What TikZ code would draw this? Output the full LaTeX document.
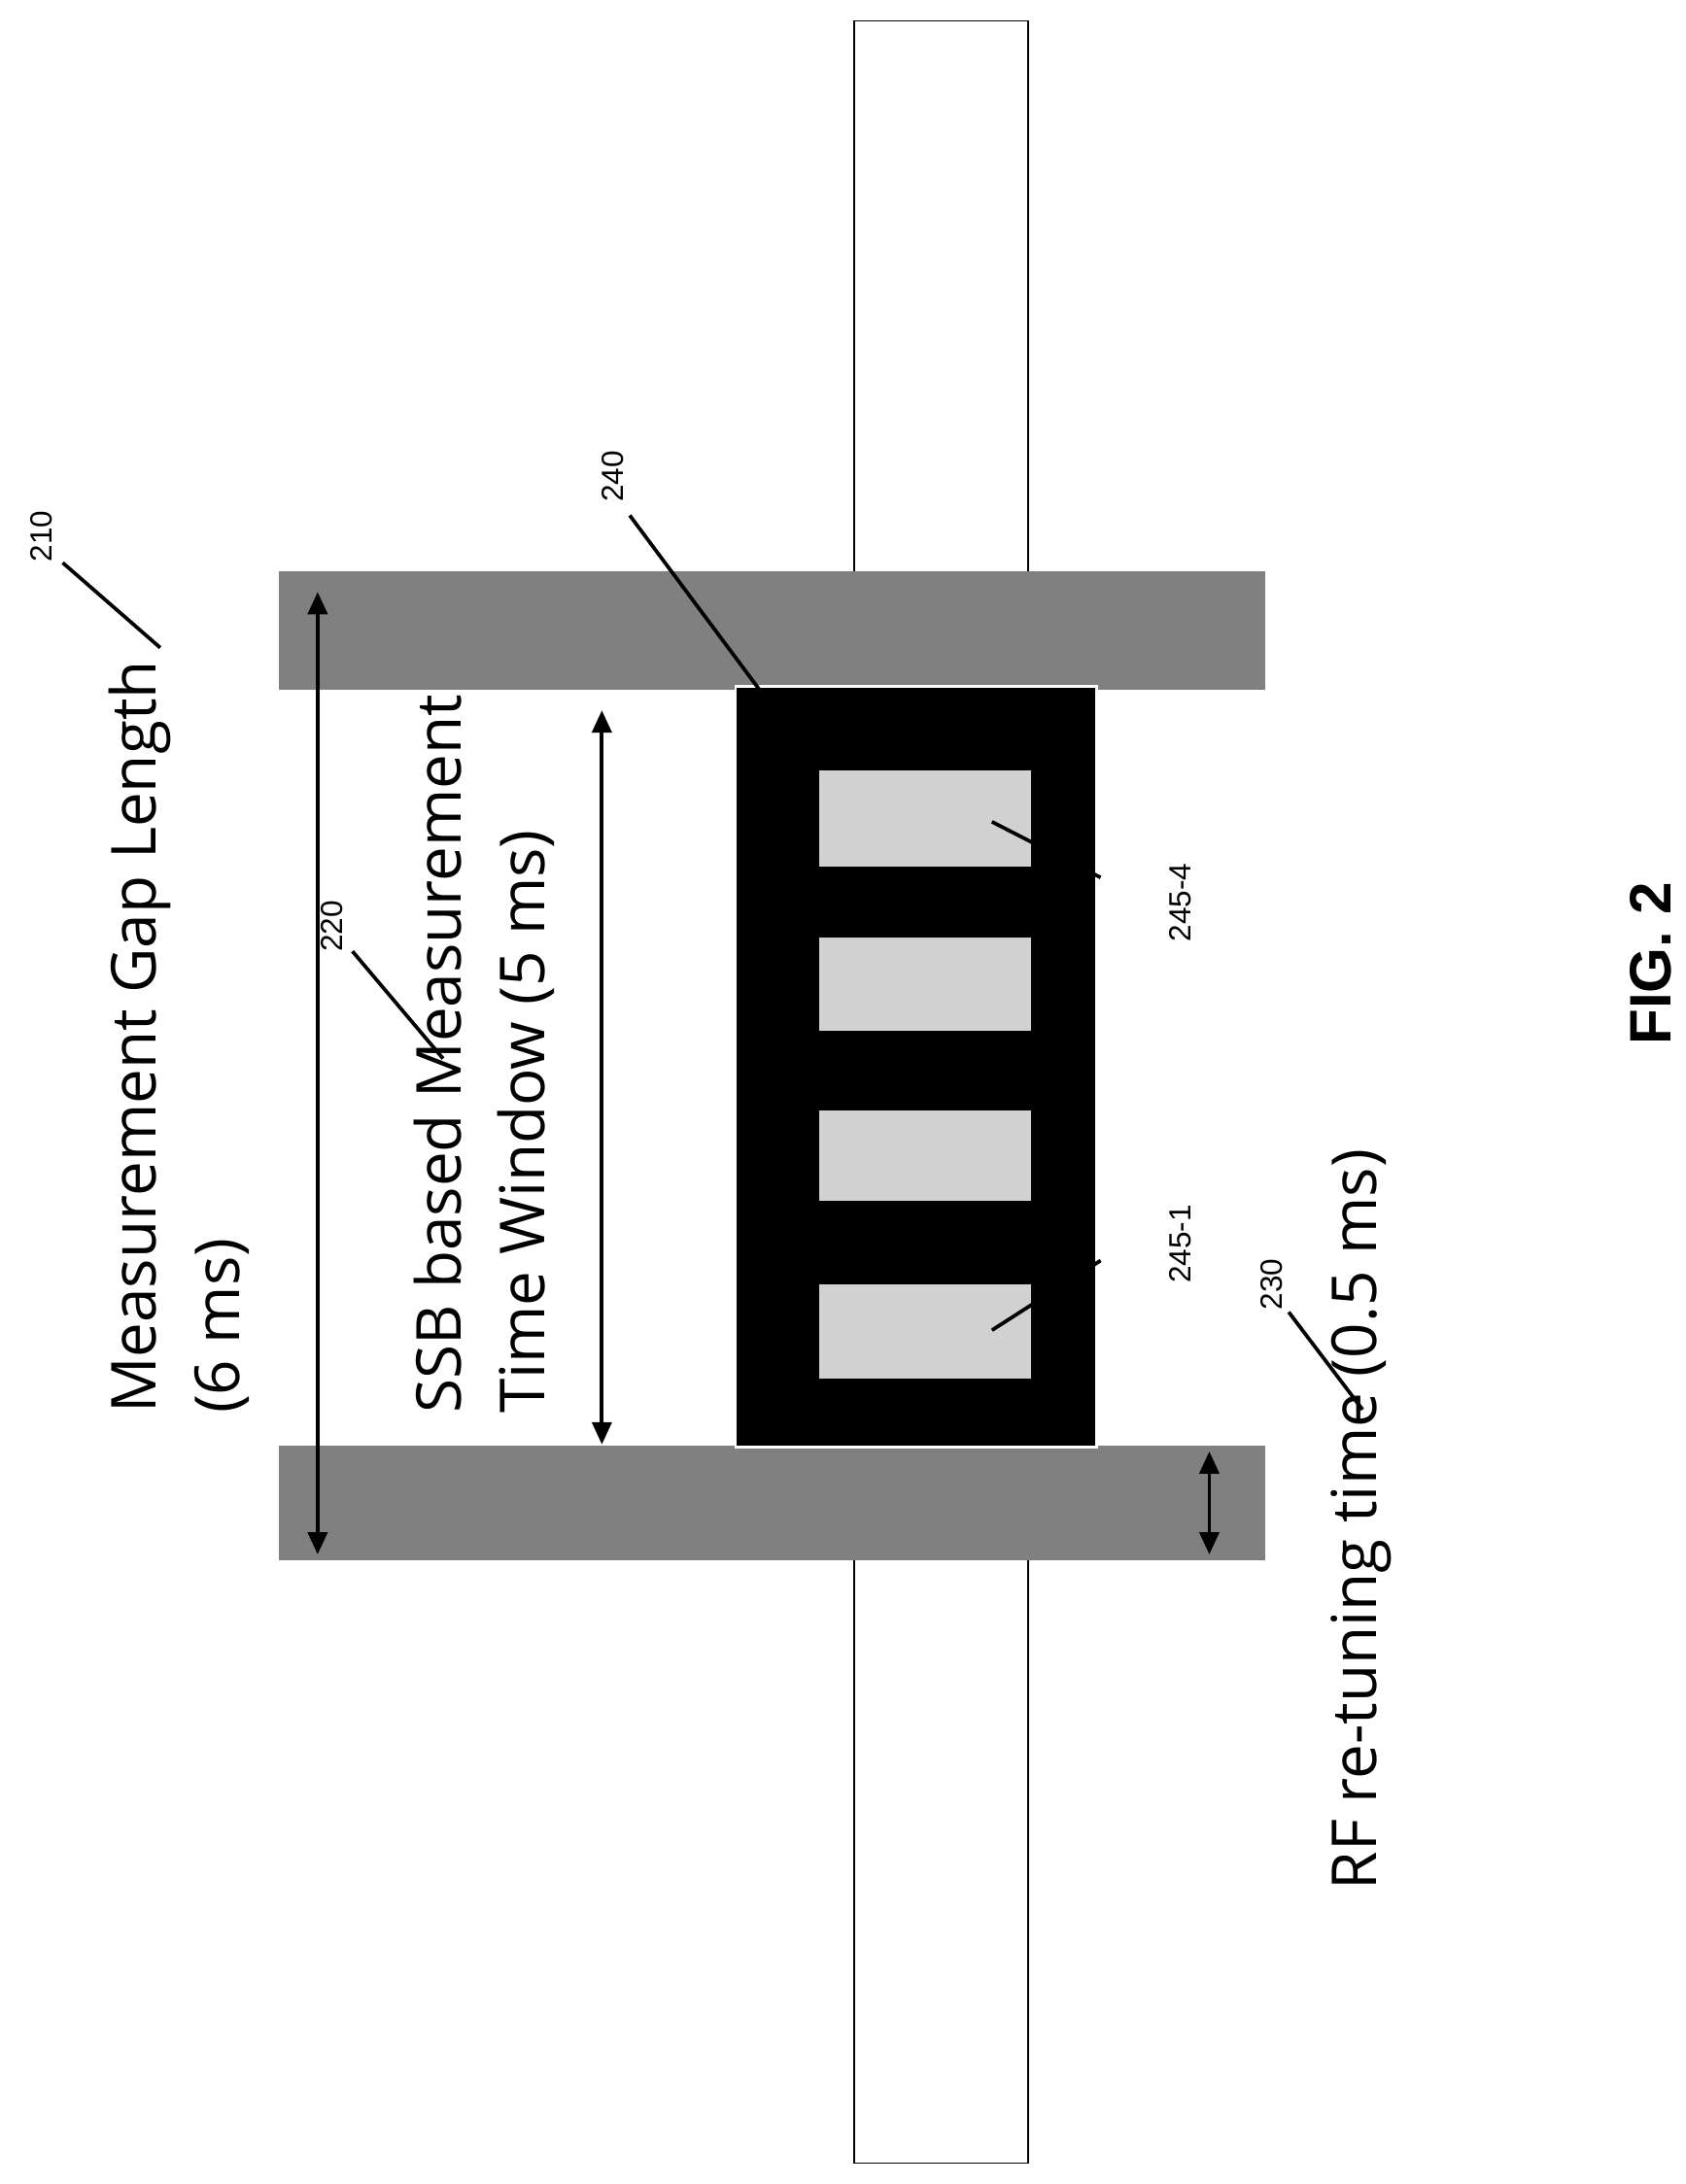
\documentclass[tikz,border=0pt]{standalone}
\usepackage{fontspec}
\setmainfont{Open Sans}
\newfontfamily\arialf{Liberation Sans}
\usetikzlibrary{arrows.meta}
\begin{document}
\begin{tikzpicture}[x=1pt,y=-1pt,
  gapbar/.style={fill=black!50,draw=none},
  whitebar/.style={fill=white,draw=black,line width=1.2pt},
  ssbsq/.style={fill=black!18,draw=none},
  dim/.style={line width=2.6pt,{Triangle[length=16pt,width=14pt]}-{Triangle[length=16pt,width=14pt]}},
  lead/.style={line width=2.6pt},
  big/.style={font=\fontsize{44.5}{60}\selectfont,rotate=90,align=left,inner sep=0pt},
  num/.style={font=\arialf\fontsize{22}{24}\selectfont,rotate=90,inner sep=0pt}]
\useasboundingbox (0,0) rectangle (1210,1568);
\fill[white] (0,0) rectangle (1210,1568);
% bars
\draw[whitebar] (613,15) rectangle (738,412);
\draw[whitebar] (613,1118) rectangle (738,1553);
\fill[gapbar] (200,410) rectangle (908,495);
\fill[gapbar] (200,1038) rectangle (908,1120);
\node[fill=black,draw=white,line width=2pt,minimum width=259pt,minimum height=546pt,inner sep=0pt,anchor=north west] (box) at (527,492) {};
\fill[ssbsq] (588,553) rectangle (740,622);
\fill[ssbsq] (588,673) rectangle (740,740);
\fill[ssbsq] (588,797) rectangle (740,862);
\fill[ssbsq] (588,922) rectangle (740,990);
% dimension arrows
\coordinate (a1) at (228,425); \coordinate (a2) at (228,1116);
\draw[dim] (a1) -- (a2);
\coordinate (b1) at (432,510); \coordinate (b2) at (432,1037);
\draw[dim] (b1) -- (b2);
\coordinate (c1) at (868,1042); \coordinate (c2) at (868,1116);
\draw[dim] (c1) -- (c2);
% texts
\node[big,anchor=north west] (t210) at (78,1015) {Measurement Gap Length\\(6 ms)};
\node[big,anchor=north west] (t220) at (297,1015) {SSB based Measurement\\Time Window (5 ms)};
\node[big,anchor=north west] (t230) at (955,1357) {RF re-tuning time (0.5 ms)};
\node[font=\arialf\bfseries\fontsize{42}{50}\selectfont,rotate=90,inner sep=0pt] (fig) at (1185,692) {FIG. 2};
% reference numerals
\node[num] (n210) at (30,385) {210};
\node[num] (n220) at (238,665) {220};
\node[num] (n230) at (913,922) {230};
\node[num] (n240) at (440,342) {240};
\node[num] (n2454) at (847,648) {245-4};
\node[num] (n2451) at (847,893) {245-1};
\coordinate (e210) at (115,465);
\coordinate (e220) at (318,760);
\coordinate (e230) at (978,1012);
\coordinate (e240) at (545,495);
\coordinate (e2454) at (712,590);
\coordinate (e2451) at (712,955);
\draw[lead] (45,404) -- (e210);
\draw[lead] (253,683) -- (e220);
\draw[lead] (925,942) -- (e230);
\draw[lead] (452,370) -- (e240);
\draw[lead] (790,630) -- (e2454);
\draw[lead] (790,905) -- (e2451);
\end{tikzpicture}
\end{document}
